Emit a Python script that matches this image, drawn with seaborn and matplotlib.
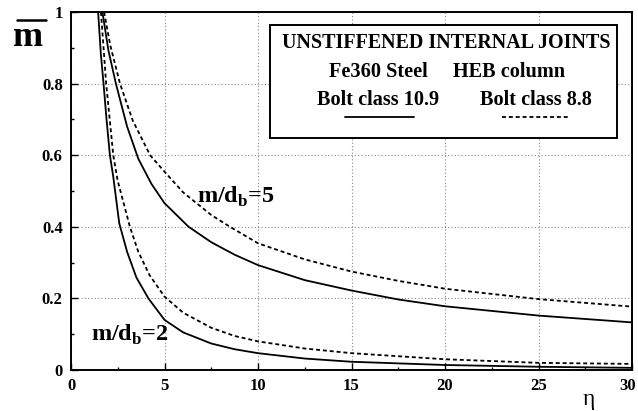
import matplotlib
matplotlib.use('Agg')
import matplotlib.pyplot as plt
import matplotlib.transforms as mtransforms
import seaborn as sns
import pandas as pd
from matplotlib.lines import Line2D
from matplotlib.patches import Rectangle
from matplotlib.ticker import MultipleLocator

sns.set_theme(style='white')
plt.rcParams['font.family'] = ['Liberation Serif', 'DejaVu Serif']
plt.rcParams['mathtext.fontset'] = 'custom'
plt.rcParams['mathtext.rm'] = 'Liberation Serif:bold'
plt.rcParams['mathtext.bf'] = 'Liberation Serif:bold'

# ---- data ----
eta_md2_109 = [1.45, 1.6, 1.74, 1.9, 2.08, 2.26, 2.58, 3.0, 3.5, 4.14, 5.0, 6.0, 7.5, 8.75,
               10, 12.5, 15, 20, 25, 30]
m_md2_109 = [1.0, 0.88, 0.8, 0.70, 0.6, 0.54, 0.41, 0.33, 0.258, 0.2, 0.14, 0.105, 0.074, 0.058,
             0.047, 0.032, 0.023, 0.014, 0.009, 0.006]

eta_md2_88 = [1.6, 1.88, 2.26, 2.49, 3.15, 3.6, 4.2, 5.0, 6.0, 7.5, 8.75, 10, 12.5, 15, 20,
              25, 30]
m_md2_88 = [1.0, 0.8, 0.6, 0.53, 0.4, 0.33, 0.265, 0.205, 0.16, 0.118, 0.095, 0.08, 0.06,
            0.047, 0.03, 0.02, 0.017]

eta_md5_109 = [1.68, 2.0, 2.4, 3.0, 3.6, 4.3, 5.0, 6.29, 7.5, 8.75, 10, 12.5, 15, 17.5, 20,
               25, 30]
m_md5_109 = [1.0, 0.893, 0.8, 0.68, 0.59, 0.52, 0.466, 0.4, 0.357, 0.322, 0.293, 0.251, 0.222,
             0.197, 0.178, 0.152, 0.133]

eta_md5_88 = [1.77, 2.1, 2.62, 3.3, 4.23, 5.0, 6.0, 7.5, 8.5, 10, 12.5, 15, 17.5, 20, 25, 30]
m_md5_88 = [1.0, 0.907, 0.8, 0.697, 0.6, 0.554, 0.496, 0.433, 0.40, 0.354, 0.309, 0.275, 0.249,
            0.227, 0.198, 0.177]

x_ticks = [0, 5, 10, 15, 20, 25, 30]
x_tick_labels = ['0', '5', '10', '15', '20', '25', '30']
y_ticks = [0, 0.2, 0.4, 0.6, 0.8, 1.0]
y_tick_labels = ['0', '0.2', '0.4', '0.6', '0.8', '1']

frames = []
for ratio, bolt, xs, ys in [('2', '10.9', eta_md2_109, m_md2_109),
                            ('2', '8.8', eta_md2_88, m_md2_88),
                            ('5', '10.9', eta_md5_109, m_md5_109),
                            ('5', '8.8', eta_md5_88, m_md5_88)]:
    frames.append(pd.DataFrame({'eta': xs, 'm': ys, 'ratio': ratio, 'bolt': bolt}))
df = pd.concat(frames, ignore_index=True)
df['curve'] = df['ratio'] + '_' + df['bolt']

DASH = (2.2, 1.6)

W, H = 638, 411
fig = plt.figure(figsize=(W / 100, H / 100), dpi=100)
L, R, T, B = 71, 632, 12, 370
ax = fig.add_axes([L / W, 1 - B / H, (R - L) / W, (B - T) / H])

sns.lineplot(data=df, x='eta', y='m', units='curve', style='bolt', estimator=None,
             style_order=['10.9', '8.8'], dashes={'10.9': '', '8.8': DASH},
             color='black', linewidth=1.3, legend=False, sort=False, ax=ax)

ax.set_xlim(0, 30)
ax.set_ylim(0, 1)
ax.set_xlabel('')
ax.set_ylabel('')
ax.set_xticks(x_ticks)
ax.set_xticklabels(x_tick_labels)
ax.set_yticks(y_ticks)
ax.set_yticklabels(y_tick_labels)
ax.xaxis.set_minor_locator(MultipleLocator(2.5))
ax.yaxis.set_minor_locator(MultipleLocator(0.1))
ax.tick_params(axis='both', which='major', direction='in', length=5, width=1,
               color='black', labelsize=12, bottom=True, left=True, top=False, right=False)
ax.tick_params(axis='x', which='major', pad=6)
ax.tick_params(axis='y', which='major', pad=6)
ax.tick_params(axis='both', which='minor', direction='in', length=2.5, width=1,
               color='black', bottom=True, left=True, top=False, right=False)
for lab in ax.get_xticklabels() + ax.get_yticklabels():
    lab.set_fontweight('bold')
    lab.set_color('black')
# nudge last x label inward so it stays inside the figure
last = ax.get_xticklabels()[-1]
last.set_transform(last.get_transform() +
                   mtransforms.ScaledTranslation(-4 / 100, 0, fig.dpi_scale_trans))
for sp in ax.spines.values():
    sp.set_color('black')
    sp.set_linewidth(1.4)
ax.grid(True, which='major', linestyle=(0, (1, 2)), color='#888888', linewidth=0.8)
ax.set_axisbelow(True)


def afx(px):
    return (px - L) / (R - L)


def afy(py):
    return (B - py) / (B - T)


# legend box
box = Rectangle((afx(270), afy(138)), afx(617) - afx(270), afy(25) - afy(138),
                transform=ax.transAxes, facecolor='white', edgecolor='black',
                linewidth=1.4, zorder=5)
ax.add_patch(box)
kw = dict(transform=ax.transAxes, ha='center', va='center', fontweight='bold',
          color='black', zorder=6)
ax.text(afx(446), afy(43), 'UNSTIFFENED INTERNAL JOINTS', fontsize=14.4, **kw)
ax.text(afx(378), afy(72), 'Fe360 Steel', fontsize=14.6, **kw)
ax.text(afx(509), afy(72), 'HEB column', fontsize=14.6, **kw)
ax.text(afx(378), afy(100), 'Bolt class 10.9', fontsize=14.6, **kw)
ax.text(afx(536), afy(100), 'Bolt class 8.8', fontsize=14.6, **kw)
ax.add_line(Line2D([afx(345), afx(414)], [afy(117), afy(117)], transform=ax.transAxes,
                   color='black', linewidth=1.3, zorder=6))
ax.add_line(Line2D([afx(502), afx(570)], [afy(117), afy(117)], transform=ax.transAxes,
                   color='black', linewidth=1.3, linestyle=(0, DASH), zorder=6))

# curve labels
ax.text(afx(197), afy(197), r'm/d$_\mathrm{b}$=5', transform=ax.transAxes, ha='left',
        va='center', fontsize=17.5, fontweight='bold', color='black')
ax.text(afx(91), afy(335), r'm/d$_\mathrm{b}$=2', transform=ax.transAxes, ha='left',
        va='center', fontsize=17.5, fontweight='bold', color='black')

# axis labels
fig.text(28 / W, 1 - 38 / H, 'm', ha='center', va='center', fontsize=26,
         fontweight='bold', color='black')
fig.add_artist(Line2D([17 / W, 46 / W], [1 - 20 / H, 1 - 20 / H], transform=fig.transFigure,
                      color='black', linewidth=1.8))
fig.text(589 / W, 1 - 399 / H, 'η', ha='center', va='center', fontsize=17, color='black')

fig.savefig('out.png', dpi=100, facecolor='white')
